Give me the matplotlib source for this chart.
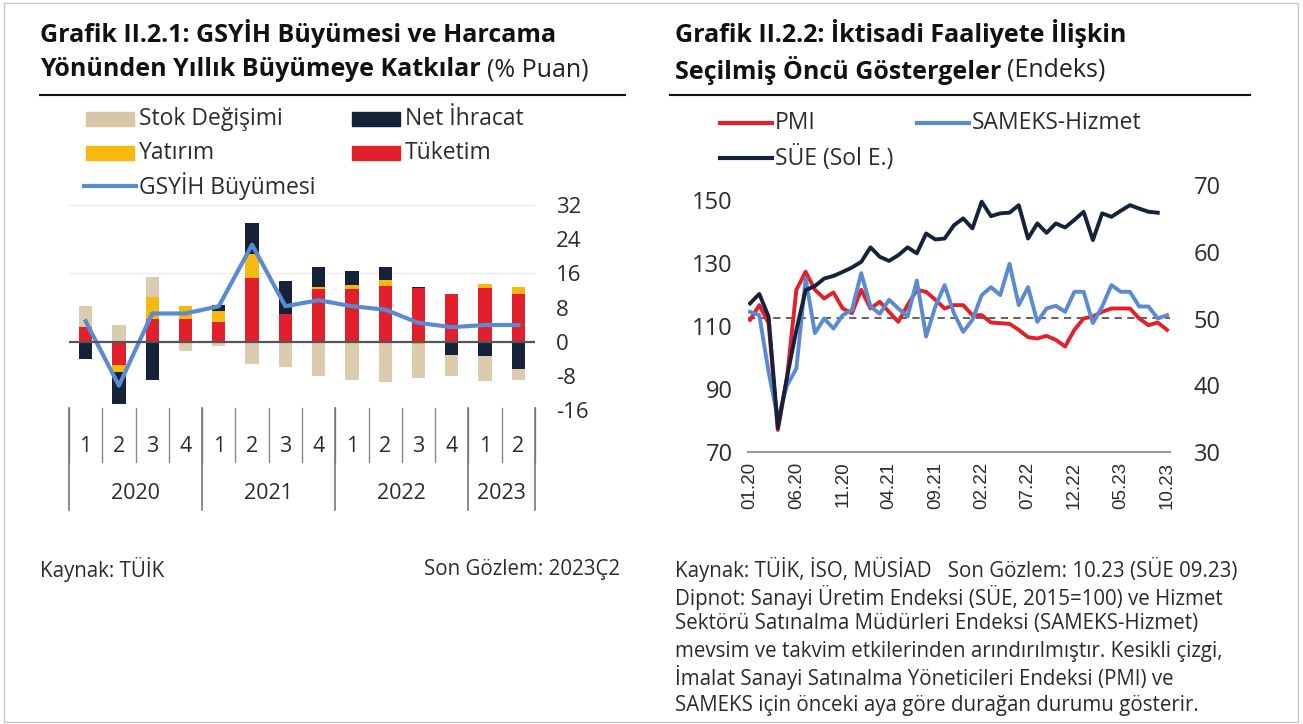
import matplotlib
matplotlib.use("Agg")
import matplotlib.pyplot as plt
import matplotlib.transforms as mtransforms
from matplotlib.patches import Rectangle
from matplotlib.lines import Line2D
import numpy as np

plt.rcParams['font.family'] = ['Open Sans', 'DejaVu Sans']

W, H = 1303, 724

# --- Grafik II.2.1 data (% puan) ---
quarters = ['1', '2', '3', '4', '1', '2', '3', '4', '1', '2', '3', '4', '1', '2']
years = ['2020', '2021', '2022', '2023']
year_sizes = [4, 4, 4, 2]
tuketim = [3.4, -5.5, 5.3, 5.3, 4.5, 14.8, 6.5, 12.3, 12.3, 13.1, 12.5, 11.2, 12.5, 11.2]
yatirim = [0.0, -1.6, 5.1, 3.0, 2.7, 5.7, 0.0, 0.6, 0.9, 1.4, -0.5, 0.0, 0.9, 1.5]
net_ihracat = [-4.1, -7.6, -8.9, -0.2, 1.3, 7.4, 7.8, 4.7, 3.4, 3.1, 0.2, -3.1, -3.4, -6.4]
stok = [5.0, 3.9, 4.7, -1.9, -1.1, -5.2, -6.0, -8.1, -8.9, -9.5, -8.1, -5.0, -5.9, -2.5]
gsyih = [4.8, -10.3, 6.6, 6.6, 8.3, 22.7, 8.3, 9.7, 8.3, 7.5, 4.4, 3.4, 3.9, 3.9]
left_yticks = [-16, -8, 0, 8, 16, 24, 32]

# --- Grafik II.2.2 data (endeks) ---
month_ticks = ['01.20', '06.20', '11.20', '04.21', '09.21', '02.22', '07.22', '12.22', '05.23', '10.23']
sue = [117.2, 120.2, 113.0, 77.6, 93.9, 108.7, 121.4, 122.7, 125.1, 125.9, 127.2, 128.6,
       130.4, 135.0, 132.0, 130.7, 132.5, 135.0, 133.1, 139.4, 137.5, 137.8, 142.0, 144.2,
       141.0, 149.5, 144.9, 145.8, 146.0, 148.4, 137.8, 142.6, 139.6, 142.6, 141.3, 143.7,
       146.3, 137.3, 145.8, 144.7, 146.6, 148.4, 147.3, 146.3, 146.0, np.nan]
pmi = [49.8, 52.0, 49.3, 33.3, 41.3, 54.3, 57.0, 54.3, 53.0, 53.9, 51.5, 50.8,
       54.3, 51.5, 52.5, 51.0, 49.5, 52.0, 54.3, 54.0, 52.8, 51.5, 52.0, 52.0,
       50.5, 50.5, 49.4, 49.3, 49.2, 48.3, 47.2, 47.0, 47.4, 46.8, 45.8, 48.3,
       50.0, 50.3, 51.0, 51.5, 51.5, 51.5, 50.0, 49.0, 49.4, 48.3]
sameks = [51.0, 50.5, 42.0, 35.0, 40.0, 42.5, 56.0, 47.8, 50.0, 48.5, 50.5, 51.3,
          56.8, 51.8, 50.7, 52.8, 51.5, 50.3, 55.7, 47.3, 51.8, 55.0, 50.8, 48.0,
          49.8, 53.5, 54.7, 53.5, 58.2, 52.0, 54.7, 49.5, 51.5, 51.9, 51.0, 54.0,
          54.0, 49.3, 51.8, 55.0, 54.0, 54.0, 51.8, 51.8, 50.0, 50.5]

RED = '#e2202c'
NAVY = '#15223a'
GOLD = '#f6b90f'
TAN = '#d8c7a6'
BLUE = '#5a8bd0'
TXT = '#2b2b2b'

TITLE_FS = 18
LEG_FS = 16.5
NOTE_FS = 14.8


def fx(px):
    return px / W


def fy(py):
    return 1 - py / H


fig = plt.figure(figsize=(W / 100, H / 100), dpi=100)
renderer = fig.canvas.get_renderer()


def title_line(x, y, bold, normal=None, size=TITLE_FS):
    t = fig.text(fx(x), fy(y), bold, weight='bold', size=size, va='center', color='#111111')
    if normal:
        bb = t.get_window_extent(renderer)
        fig.text((bb.x1 + 6) / W, fy(y), normal, size=size, va='center', color='#222222')


def legend_patch(x, y, color, label, size=LEG_FS):
    fig.add_artist(Rectangle((fx(x), fy(y + 7)), 48 / W, 14 / H, color=color,
                             transform=fig.transFigure))
    fig.text(fx(x + 53), fy(y), label, size=size, va='center', color=TXT)


def legend_line(x, y, color, label, size=LEG_FS):
    fig.add_artist(Line2D([fx(x), fx(x + 52)], [fy(y), fy(y)], color=color, lw=3,
                          transform=fig.transFigure))
    fig.text(fx(x + 55), fy(y), label, size=size, va='center', color=TXT)


# frame
fig.add_artist(Rectangle((fx(4), fy(722)), 1294 / W, 719 / H, fill=False, ec='#c8c8c8',
                         lw=1, transform=fig.transFigure))

# ---------------- left chart ----------------
title_line(40, 34, 'Grafik II.2.1: GSYİH Büyümesi ve Harcama')
title_line(40, 70, 'Yönünden Yıllık Büyümeye Katkılar', '(% Puan)')
fig.add_artist(Line2D([fx(40), fx(625)], [fy(95), fy(95)], color='#111111', lw=1.5,
                      transform=fig.transFigure))

legend_patch(86, 119, TAN, 'Stok Değişimi')
legend_patch(352, 119, NAVY, 'Net İhracat')
legend_patch(86, 153, GOLD, 'Yatırım')
legend_patch(352, 153, RED, 'Tüketim')
legend_line(84, 186, BLUE, 'GSYİH Büyümesi')

ax1 = fig.add_axes([fx(69), fy(410), (535 - 69) / W, (410 - 205) / H])
x = np.arange(len(quarters))
pos = np.zeros(len(x))
neg = np.zeros(len(x))
for vals, col, a in [(tuketim, RED, 1), (yatirim, GOLD, 1), (net_ihracat, NAVY, 1), (stok, TAN, 0.9)]:
    v = np.array(vals)
    bottom = np.where(v >= 0, pos, neg)
    ax1.bar(x, v, bottom=bottom, width=0.4, color=col, alpha=a, zorder=3)
    pos = pos + np.where(v >= 0, v, 0)
    neg = neg + np.where(v < 0, v, 0)
ax1.plot(x, gsyih, color=BLUE, lw=3, zorder=4, solid_joinstyle='round')
ax1.axhline(0, color='#555555', lw=1.6, zorder=5)
for g in [16, 32]:
    ax1.axhline(g, color='#ececec', lw=1, zorder=1)
ax1.set_xlim(-0.5, len(x) - 0.5)
ax1.set_ylim(-16, 32)
ax1.yaxis.tick_right()
ax1.set_yticks(left_yticks)
ax1.set_yticklabels([str(t) for t in left_yticks])
ax1.tick_params(axis='y', length=0, pad=15, labelsize=16, labelcolor=TXT)
ax1.set_xticks([])
for s in ax1.spines.values():
    s.set_visible(False)

trans = mtransforms.blended_transform_factory(ax1.transData, ax1.transAxes)
for i, q in enumerate(quarters):
    ax1.text(i, (410 - 446) / 205, q, transform=trans, ha='center', va='center',
             size=15.5, color=TXT)
for k in range(len(x) + 1):
    ax1.plot([k - 0.5, k - 0.5], [0.01, (410 - 462) / 205], transform=trans,
             color='#8a8a8a', lw=1, clip_on=False)
start = 0
for yr, n in zip(years, year_sizes):
    ax1.plot([start - 0.5, start - 0.5], [0.01, (410 - 510) / 205], transform=trans,
             color='#777777', lw=1.2, clip_on=False)
    ax1.text(start + (n - 1) / 2, (410 - 493) / 205, yr, transform=trans, ha='center',
             va='center', size=15.5, color=TXT)
    start += n
ax1.plot([start - 0.5, start - 0.5], [0.01, (410 - 510) / 205], transform=trans,
         color='#777777', lw=1.2, clip_on=False)

fig.text(fx(40), fy(570), 'Kaynak: TÜİK', size=NOTE_FS, va='center', color=TXT)
fig.text(fx(620), fy(570), 'Son Gözlem: 2023Ç2', size=NOTE_FS, va='center', ha='right', color=TXT)

# ---------------- right chart ----------------
title_line(675, 34, 'Grafik II.2.2: İktisadi Faaliyete İlişkin')
title_line(675, 70, 'Seçilmiş Öncü Göstergeler', '(Endeks)')
fig.add_artist(Line2D([fx(670), fx(1250)], [fy(95), fy(95)], color='#111111', lw=1.5,
                      transform=fig.transFigure))

legend_line(720, 123, RED, 'PMI')
legend_line(917, 123, BLUE, 'SAMEKS-Hizmet')
legend_line(720, 158, NAVY, 'SÜE (Sol E.)')

ax2 = fig.add_axes([fx(748), fy(452), (1170 - 748) / W, (452 - 185) / H])
ax2r = ax2.twinx()
m = np.arange(len(pmi))
ax2r.axhline(50, color='#555555', lw=1.3, ls=(0, (4, 3)), zorder=1)
ax2r.plot(m, pmi, color=RED, lw=2.8, zorder=2)
ax2r.plot(m, sameks, color=BLUE, lw=2.8, zorder=3)
ax2.plot(m, sue, color=NAVY, lw=2.8)
ax2.set_zorder(ax2r.get_zorder() + 1)
ax2.patch.set_visible(False)

ax2.set_xlim(-0.22, 45.32)
ax2.set_ylim(70, 154.8)
ax2r.set_ylim(30, 70)
ax2.set_yticks([70, 90, 110, 130, 150])
ax2r.set_yticks([30, 40, 50, 60, 70])
ax2.set_xticks(np.arange(0, len(pmi), 5))
ax2.set_xticklabels(month_ticks, rotation=90, family='Liberation Sans', size=13.5, color=TXT)
ax2.tick_params(axis='x', length=0, pad=7)
ax2.tick_params(axis='y', length=0, pad=11, labelsize=17, labelcolor=TXT)
ax2r.tick_params(axis='y', length=0, pad=17, labelsize=17, labelcolor=TXT)
for a in (ax2, ax2r):
    for k, s in a.spines.items():
        s.set_visible(False)
ax2.spines['bottom'].set_visible(True)
ax2.spines['bottom'].set_color('#9a9a9a')
ax2.spines['bottom'].set_linewidth(1.5)

notes = [
    'Kaynak: TÜİK, İSO, MÜSİAD   Son Gözlem: 10.23 (SÜE 09.23)',
    'Dipnot: Sanayi Üretim Endeksi (SÜE, 2015=100) ve Hizmet',
    'Sektörü Satınalma Müdürleri Endeksi (SAMEKS-Hizmet)',
    'mevsim ve takvim etkilerinden arındırılmıştır. Kesikli çizgi,',
    'İmalat Sanayi Satınalma Yöneticileri Endeksi (PMI) ve',
    'SAMEKS için önceki aya göre durağan durumu gösterir.',
]
for j, line in enumerate(notes):
    fig.text(fx(675), fy(570 + 27 * j), line, size=NOTE_FS, va='center', color=TXT)

fig.savefig('out.png', dpi=100)
